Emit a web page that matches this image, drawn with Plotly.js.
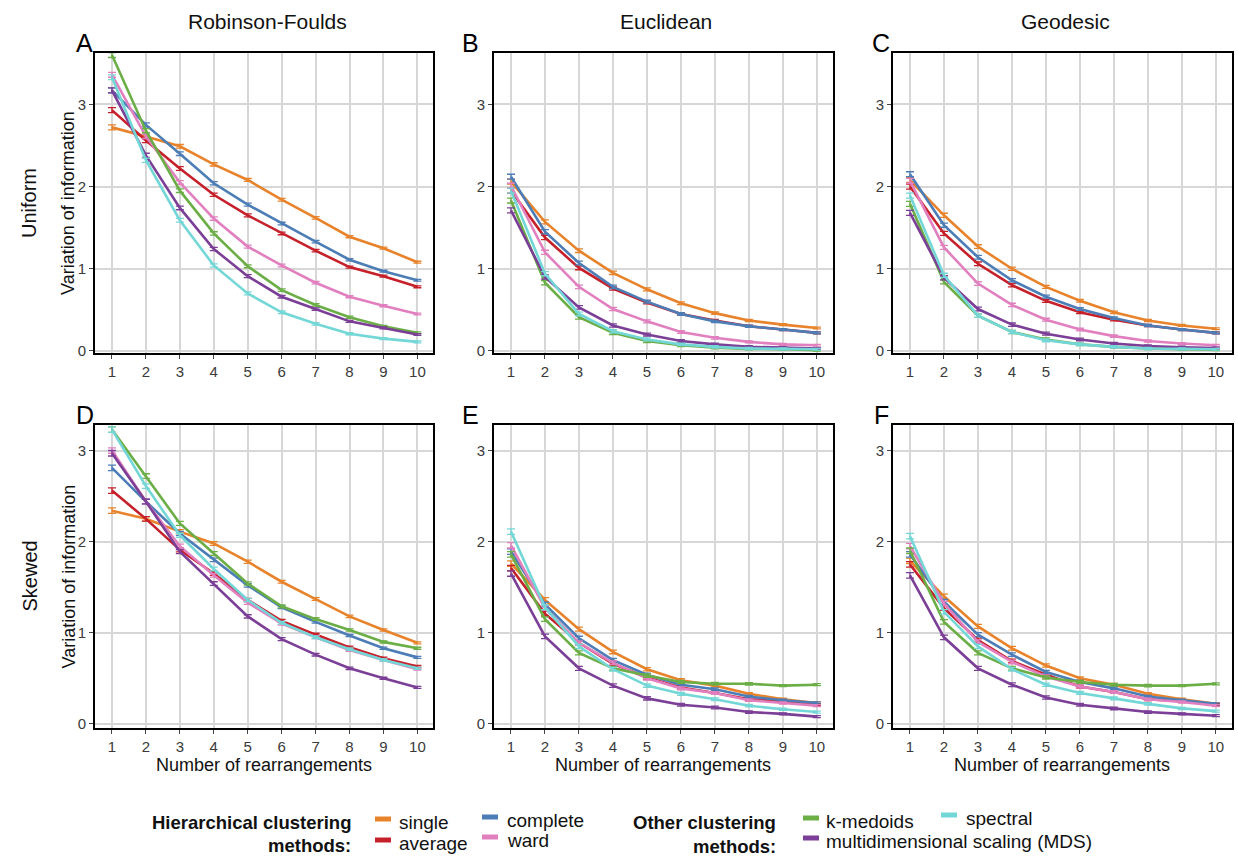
<!DOCTYPE html>
<html>
<head>
<meta charset="utf-8">
<script src="https://cdn.plot.ly/plotly-3.0.1.min.js"></script>
<style>
  html, body { margin: 0; padding: 0; background: #fff; }
  #chart { width: 1238px; height: 857px; }
</style>
</head>
<body>
<div id="chart"></div>
<script>
// Number of rearrangements
const X = [1, 2, 3, 4, 5, 6, 7, 8, 9, 10];

// Standard-error half widths shared by every series
const ERR = [0.03, 0.025, 0.022, 0.02, 0.018, 0.016, 0.015, 0.013, 0.012, 0.011];

// A: Robinson-Foulds, uniform
const A_single   = [2.72, 2.61, 2.49, 2.27, 2.08, 1.84, 1.62, 1.39, 1.25, 1.08];
const A_average  = [2.93, 2.56, 2.22, 1.90, 1.65, 1.43, 1.22, 1.02, 0.91, 0.78];
const A_complete = [3.17, 2.75, 2.40, 2.04, 1.78, 1.55, 1.33, 1.11, 0.97, 0.86];
const A_ward     = [3.36, 2.61, 2.05, 1.61, 1.27, 1.04, 0.83, 0.66, 0.55, 0.45];
const A_kmedoids = [3.60, 2.68, 1.95, 1.43, 1.03, 0.74, 0.56, 0.41, 0.30, 0.22];
const A_mds      = [3.17, 2.38, 1.74, 1.24, 0.91, 0.66, 0.51, 0.36, 0.28, 0.20];
const A_spectral = [3.33, 2.32, 1.59, 1.04, 0.70, 0.47, 0.33, 0.21, 0.15, 0.11];

// B: Euclidean, uniform
const B_single   = [2.06, 1.57, 1.22, 0.95, 0.75, 0.58, 0.46, 0.37, 0.32, 0.28];
const B_average  = [1.95, 1.38, 1.01, 0.76, 0.59, 0.45, 0.37, 0.30, 0.26, 0.22];
const B_complete = [2.12, 1.45, 1.07, 0.78, 0.60, 0.45, 0.36, 0.30, 0.26, 0.22];
const B_ward     = [2.01, 1.20, 0.78, 0.51, 0.36, 0.23, 0.16, 0.11, 0.08, 0.07];
const B_kmedoids = [1.83, 0.83, 0.41, 0.22, 0.12, 0.07, 0.04, 0.025, 0.02, 0.01];
const B_mds      = [1.71, 0.90, 0.53, 0.31, 0.20, 0.12, 0.08, 0.05, 0.04, 0.03];
const B_spectral = [1.95, 0.94, 0.45, 0.24, 0.14, 0.08, 0.05, 0.03, 0.025, 0.02];

// C: Geodesic, uniform
const C_single   = [2.08, 1.65, 1.27, 1.00, 0.78, 0.61, 0.47, 0.37, 0.31, 0.27];
const C_average  = [2.00, 1.43, 1.06, 0.80, 0.61, 0.47, 0.38, 0.31, 0.26, 0.22];
const C_complete = [2.15, 1.53, 1.14, 0.86, 0.66, 0.51, 0.40, 0.31, 0.26, 0.22];
const C_ward     = [2.07, 1.26, 0.82, 0.56, 0.38, 0.26, 0.18, 0.12, 0.09, 0.07];
const C_kmedoids = [1.79, 0.84, 0.43, 0.23, 0.14, 0.08, 0.05, 0.03, 0.02, 0.015];
const C_mds      = [1.68, 0.89, 0.51, 0.32, 0.21, 0.14, 0.09, 0.06, 0.045, 0.035];
const C_spectral = [1.89, 0.92, 0.43, 0.23, 0.13, 0.08, 0.05, 0.03, 0.025, 0.02];

// D: Robinson-Foulds, skewed
const D_single   = [2.34, 2.25, 2.11, 1.98, 1.78, 1.56, 1.37, 1.18, 1.03, 0.89];
const D_average  = [2.56, 2.25, 1.91, 1.65, 1.36, 1.13, 0.98, 0.84, 0.72, 0.63];
const D_complete = [2.81, 2.44, 2.09, 1.80, 1.52, 1.28, 1.12, 0.97, 0.83, 0.73];
const D_ward     = [3.00, 2.44, 1.95, 1.63, 1.33, 1.10, 0.95, 0.81, 0.70, 0.60];
const D_kmedoids = [3.23, 2.72, 2.20, 1.87, 1.54, 1.29, 1.15, 1.03, 0.90, 0.83];
const D_mds      = [2.97, 2.44, 1.89, 1.54, 1.18, 0.93, 0.76, 0.61, 0.50, 0.40];
const D_spectral = [3.23, 2.61, 2.07, 1.70, 1.36, 1.11, 0.95, 0.82, 0.70, 0.61];

// E: Euclidean, skewed
const E_single   = [1.76, 1.36, 1.04, 0.79, 0.60, 0.48, 0.42, 0.33, 0.27, 0.23];
const E_average  = [1.71, 1.21, 0.89, 0.66, 0.51, 0.40, 0.34, 0.27, 0.25, 0.21];
const E_complete = [1.89, 1.31, 0.94, 0.70, 0.54, 0.43, 0.38, 0.30, 0.26, 0.23];
const E_ward     = [1.96, 1.27, 0.89, 0.67, 0.50, 0.39, 0.34, 0.26, 0.23, 0.20];
const E_kmedoids = [1.86, 1.15, 0.78, 0.61, 0.53, 0.46, 0.44, 0.44, 0.42, 0.43];
const E_mds      = [1.65, 0.96, 0.61, 0.42, 0.28, 0.21, 0.18, 0.13, 0.11, 0.08];
const E_spectral = [2.11, 1.28, 0.85, 0.60, 0.42, 0.33, 0.27, 0.20, 0.16, 0.13];

// F: Geodesic, skewed
const F_single   = [1.79, 1.40, 1.07, 0.83, 0.64, 0.50, 0.43, 0.33, 0.27, 0.22];
const F_average  = [1.75, 1.27, 0.92, 0.69, 0.54, 0.41, 0.35, 0.27, 0.25, 0.21];
const F_complete = [1.86, 1.34, 0.98, 0.76, 0.57, 0.46, 0.39, 0.30, 0.26, 0.22];
const F_ward     = [1.95, 1.32, 0.90, 0.68, 0.52, 0.41, 0.35, 0.27, 0.24, 0.20];
const F_kmedoids = [1.90, 1.12, 0.78, 0.61, 0.51, 0.46, 0.43, 0.42, 0.42, 0.44];
const F_mds      = [1.63, 0.95, 0.61, 0.43, 0.29, 0.21, 0.17, 0.13, 0.11, 0.09];
const F_spectral = [2.06, 1.23, 0.85, 0.60, 0.43, 0.34, 0.28, 0.22, 0.17, 0.14];

const Y_TICKS = [0, 1, 2, 3];
const COLUMN_TITLES = ["Robinson-Foulds", "Euclidean", "Geodesic"];
const ROW_TITLES = ["Uniform", "Skewed"];
const PANEL_LETTERS = ["A", "B", "C", "D", "E", "F"];
const METHOD_LABELS = ["single", "average", "complete", "ward", "k-medoids", "multidimensional scaling (MDS)", "spectral"];

// ---------------------------------------------------------------
const COLORS = {
  single: "#E8832B",
  average: "#C6202B",
  complete: "#4C7DB6",
  ward: "#E17FBF",
  kmedoids: "#6BAE46",
  mds: "#7C3F97",
  spectral: "#74D7D7"
};
const METHOD_KEYS = ["single", "average", "complete", "ward", "kmedoids", "mds", "spectral"];

const PANELS = [
  { single: A_single, average: A_average, complete: A_complete, ward: A_ward, kmedoids: A_kmedoids, mds: A_mds, spectral: A_spectral },
  { single: B_single, average: B_average, complete: B_complete, ward: B_ward, kmedoids: B_kmedoids, mds: B_mds, spectral: B_spectral },
  { single: C_single, average: C_average, complete: C_complete, ward: C_ward, kmedoids: C_kmedoids, mds: C_mds, spectral: C_spectral },
  { single: D_single, average: D_average, complete: D_complete, ward: D_ward, kmedoids: D_kmedoids, mds: D_mds, spectral: D_spectral },
  { single: E_single, average: E_average, complete: E_complete, ward: E_ward, kmedoids: E_kmedoids, mds: E_mds, spectral: E_spectral },
  { single: F_single, average: F_average, complete: F_complete, ward: F_ward, kmedoids: F_kmedoids, mds: F_mds, spectral: F_spectral }
];

const W = 1238, H = 857;
const px = v => v / W;
const py = v => 1 - v / H;

// panel boxes in page pixels
const COL_X = [[95, 433], [494, 832.5], [893, 1231.5]];
const ROW_Y = [[53, 353], [425, 728]];
const ROW_RANGE = [[-0.025, 3.625], [-0.045, 3.28]];

const FONT = "Liberation Sans, Arial, Helvetica, sans-serif";
const traces = [];
const layout = {
  width: W, height: H,
  margin: { l: 0, r: 0, t: 0, b: 0 },
  paper_bgcolor: "#ffffff",
  plot_bgcolor: "#ffffff",
  showlegend: false,
  font: { family: FONT, color: "#222" },
  annotations: [],
  shapes: []
};

PANELS.forEach((panel, i) => {
  const row = Math.floor(i / 3), col = i % 3;
  const n = i === 0 ? "" : String(i + 1);
  METHOD_KEYS.forEach(k => {
    traces.push({
      type: "scatter", mode: "lines",
      x: X, y: panel[k],
      xaxis: "x" + n, yaxis: "y" + n,
      line: { color: COLORS[k], width: 2.6 },
      error_y: { type: "data", array: ERR, visible: true, color: COLORS[k], thickness: 1.3, width: 4 },
      hoverinfo: "x+y", name: k
    });
  });
  const axCommon = {
    showline: true, mirror: true, linecolor: "#000", linewidth: 2,
    showgrid: true, gridcolor: "#d7d7d7", gridwidth: 2,
    zeroline: false, ticks: "outside", ticklen: 4, tickwidth: 1, tickcolor: "#444",
    tickfont: { size: 15, color: "#3a3a3a", family: FONT }
  };
  layout["xaxis" + n] = Object.assign({}, axCommon, {
    domain: [px(COL_X[col][0]), px(COL_X[col][1])],
    range: [0.5, 10.46], tickvals: X, ticktext: X.map(String),
    anchor: "y" + n
  });
  layout["yaxis" + n] = Object.assign({}, axCommon, {
    domain: [py(ROW_Y[row][1]), py(ROW_Y[row][0])],
    range: ROW_RANGE[row], tickvals: Y_TICKS, ticktext: Y_TICKS.map(String),
    anchor: "x" + n
  });
});

const ann = (x, y, text, opts) => Object.assign({
  xref: "paper", yref: "paper", x: px(x), y: py(y), text: text, showarrow: false,
  xanchor: "center", yanchor: "middle", font: { family: FONT, size: 18, color: "#111" }
}, opts || {});

// column headings
COLUMN_TITLES.forEach((t, c) => {
  layout.annotations.push(ann((COL_X[c][0] + COL_X[c][1]) / 2 + 3, 22, t, { font: { family: FONT, size: 21, color: "#111" } }));
});
// row headings
ROW_TITLES.forEach((t, r) => {
  layout.annotations.push(ann(29, (ROW_Y[r][0] + ROW_Y[r][1]) / 2, t, { textangle: -90, font: { family: FONT, size: 20, color: "#111" } }));
});
// panel letters
const LETTER_X = [85, 470, 881];
PANEL_LETTERS.forEach((t, i) => {
  const row = Math.floor(i / 3), col = i % 3;
  layout.annotations.push(ann(LETTER_X[col], ROW_Y[row][0] - 10, t, { font: { family: FONT, size: 25, color: "#000" } }));
});
// axis titles
ROW_Y.forEach(r => {
  layout.annotations.push(ann(68, (r[0] + r[1]) / 2, "Variation of information", { textangle: -90, font: { family: FONT, size: 18, color: "#111" } }));
});
COL_X.forEach(c => {
  layout.annotations.push(ann((c[0] + c[1]) / 2, 765, "Number of rearrangements", { font: { family: FONT, size: 18, color: "#111" } }));
});

// legend: group headings, swatches and labels
const boldFont = { family: FONT, size: 18.5, color: "#111" };
layout.annotations.push(ann(353, 822, "<b>Hierarchical clustering</b>", { xanchor: "right", font: boldFont }));
layout.annotations.push(ann(353, 845, "<b>methods:</b>", { xanchor: "right", font: boldFont }));
layout.annotations.push(ann(778, 822, "<b>Other clustering</b>", { xanchor: "right", font: boldFont }));
layout.annotations.push(ann(778, 846, "<b>methods:</b>", { xanchor: "right", font: boldFont }));

const LEGEND_SLOTS = [
  { key: "single",   sx: 375, tx: 397, y: 822 },
  { key: "average",  sx: 375, tx: 397, y: 843 },
  { key: "complete", sx: 482, tx: 505, y: 820 },
  { key: "ward",     sx: 482, tx: 505, y: 840 },
  { key: "kmedoids", sx: 803, tx: 824, y: 821 },
  { key: "mds",      sx: 803, tx: 824, y: 841 },
  { key: "spectral", sx: 941, tx: 964, y: 818 }
];
LEGEND_SLOTS.forEach(s => {
  const label = METHOD_LABELS[METHOD_KEYS.indexOf(s.key)];
  layout.shapes.push({
    type: "line", xref: "paper", yref: "paper",
    x0: px(s.sx), x1: px(s.sx + 16), y0: py(s.y - 3), y1: py(s.y - 3),
    line: { color: COLORS[s.key], width: 5 }
  });
  layout.annotations.push(ann(s.tx, s.y, label, { xanchor: "left", font: { family: FONT, size: 19, color: "#111" } }));
});

Plotly.newPlot("chart", traces, layout, { displayModeBar: false, staticPlot: true });
</script>
</body>
</html>
